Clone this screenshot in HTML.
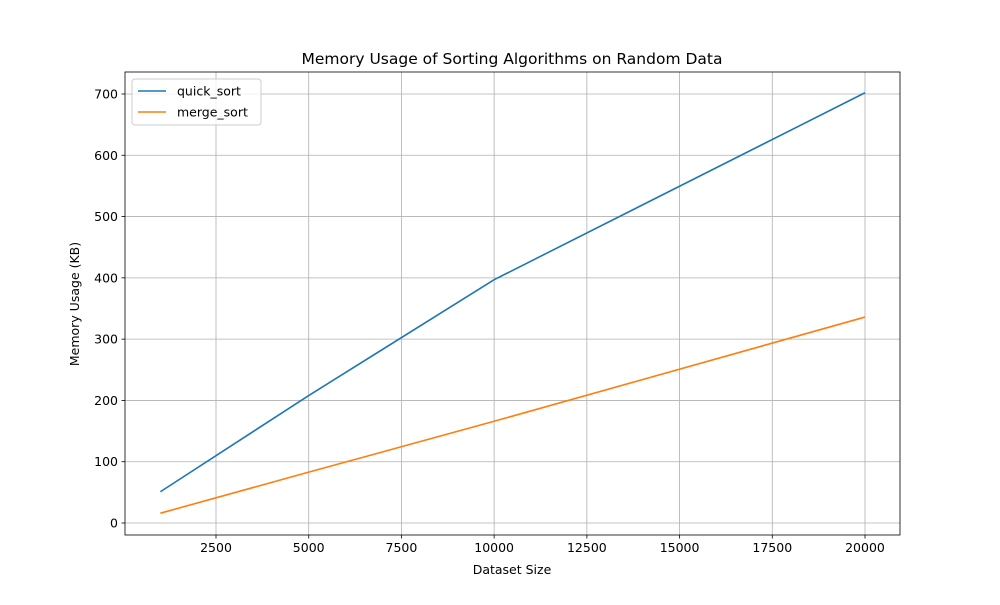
<!DOCTYPE html>
<html><head><meta charset="utf-8"><style>
body{margin:0;background:#fff;font-family:"Liberation Sans","DejaVu Sans",sans-serif;}
</style></head><body>
<svg id="chart" width="1000" height="600" xmlns="http://www.w3.org/2000/svg" font-family="DejaVu Sans, Liberation Sans, sans-serif"></svg>
<script>
const categories = [1000, 5000, 10000, 20000];
const quickSort = [51, 208, 397, 702];
const mergeSort = [16, 83, 166, 336];
const xTicks = [2500, 5000, 7500, 10000, 12500, 15000, 17500, 20000];
const yTicks = [0, 100, 200, 300, 400, 500, 600, 700];

const L=125,R=900,T=72,B=535;
const x=v=>216+(v-2500)*(865-216)/17500;
const y=v=>523-v*(523-94)/700;
const svg=document.getElementById('chart');
const NS='http://www.w3.org/2000/svg';
function mk(tag,attrs,parent){const e=document.createElementNS(NS,tag);for(const k in attrs)e.setAttribute(k,attrs[k]);(parent||svg).appendChild(e);return e;}

xTicks.forEach(t=>{
  const g=mk('line',{x1:x(t),x2:x(t),y1:T,y2:B,stroke:'#b0b0b0','stroke-width':0.8});
  
  
  mk('line',{x1:x(t),x2:x(t),y1:B,y2:B+3.5,stroke:'#000','stroke-width':0.8});
  const tx=mk('text',{x:x(t),y:B+17,'text-anchor':'middle','font-size':12.5});
  tx.textContent=t;
  
  
});
yTicks.forEach(t=>{
  const g=mk('line',{x1:L,x2:R,y1:y(t),y2:y(t),stroke:'#b0b0b0','stroke-width':0.8});
  
  
  mk('line',{x1:L-3.5,x2:L,y1:y(t),y2:y(t),stroke:'#000','stroke-width':0.8});
  const tx=mk('text',{x:L-7,y:y(t)+4.5,'text-anchor':'end','font-size':12.5});
  tx.textContent=t;
  
  
});
function series(vals,color,name){
  const p=mk('polyline',{points:categories.map((c,i)=>x(c)+','+y(vals[i])).join(' '),fill:'none',stroke:color,'stroke-width':1.6});
  
  
}
series(quickSort,'#1f77b4','quick-sort-line');
series(mergeSort,'#ff7f0e','merge-sort-line');
const fr=mk('rect',{x:L,y:T,width:R-L,height:B-T,fill:'none',stroke:'#000','stroke-width':0.8});


const ti=mk('text',{x:512,y:64,'text-anchor':'middle','font-size':15.5});
ti.textContent='Memory Usage of Sorting Algorithms on Random Data';


const xl=mk('text',{x:512,y:574,'text-anchor':'middle','font-size':12.5});
xl.textContent='Dataset Size';


const yl=mk('text',{x:0,y:0,'text-anchor':'middle','font-size':12.5,transform:'translate(79,304) rotate(-90)'});
yl.textContent='Memory Usage (KB)';


const lg=mk('g',{});


mk('rect',{x:132,y:79,width:129,height:46,rx:3,fill:'#fff','fill-opacity':0.8,stroke:'#ccc'},lg);
[['quick_sort','#1f77b4',91],['merge_sort','#ff7f0e',112]].forEach(([n,c,yy])=>{
  mk('line',{x1:138,x2:166,y1:yy,y2:yy,stroke:c,'stroke-width':1.6},lg);
  const t=mk('text',{x:177,y:yy+4.5,'font-size':12.5},lg);
  t.textContent=n;
  
  
});
</script>
</body></html>
